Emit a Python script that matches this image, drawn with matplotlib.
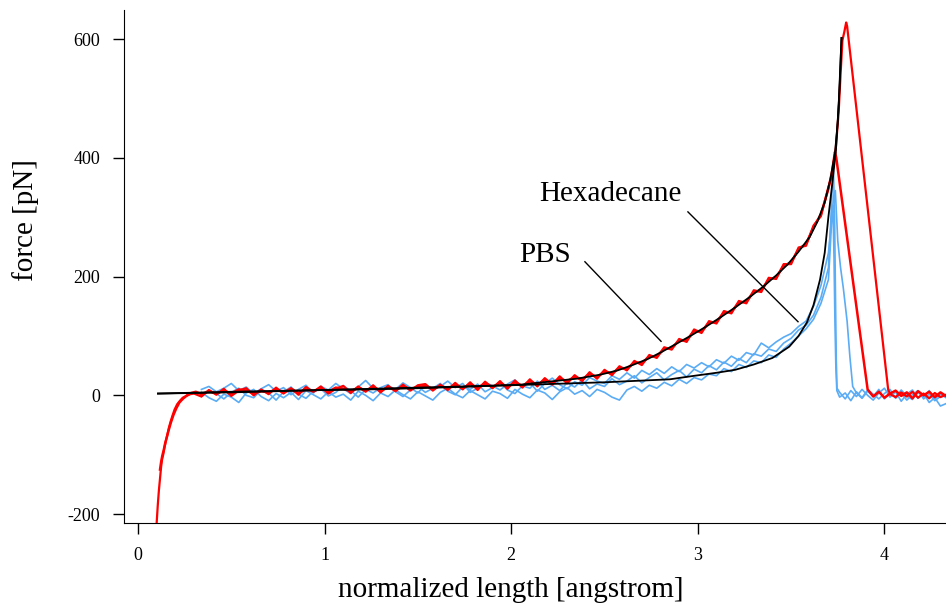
import numpy as np
import matplotlib
matplotlib.use("Agg")
import matplotlib.pyplot as plt

plt.rcParams['font.family'] = ['Liberation Serif', 'DejaVu Serif']
plt.rcParams['axes.unicode_minus'] = False

# shared sampling positions of the traces (normalized length)
grid_x = [0.34, 0.38, 0.42, 0.46, 0.50, 0.54, 0.58, 0.62, 0.66, 0.70,
          0.74, 0.78, 0.82, 0.86, 0.90, 0.94, 0.98, 1.02, 1.06, 1.10,
          1.14, 1.18, 1.22, 1.26, 1.30, 1.34, 1.38, 1.42, 1.46, 1.50,
          1.54, 1.58, 1.62, 1.66, 1.70, 1.74, 1.78, 1.82, 1.86, 1.90,
          1.94, 1.98, 2.02, 2.06, 2.10, 2.14, 2.18, 2.22, 2.26, 2.30,
          2.34, 2.38, 2.42, 2.46, 2.50, 2.54, 2.58, 2.62, 2.66, 2.70,
          2.74, 2.78, 2.82, 2.86, 2.90, 2.94, 2.98, 3.02, 3.06, 3.10,
          3.14, 3.18, 3.22, 3.26, 3.30, 3.34, 3.38, 3.42, 3.46, 3.50,
          3.54, 3.58, 3.62, 3.66, 3.70]

# Hexadecane traces (red), force in pN
hex1_start_x = [0.100, 0.106, 0.112, 0.118, 0.124, 0.129, 0.135, 0.142, 0.150, 0.158,
                0.166, 0.175, 0.185, 0.196, 0.210, 0.225, 0.240, 0.260, 0.280, 0.300]
hex1_start_y = [-215, -185, -160, -140, -120, -108, -100, -88, -76, -65,
                -54, -44, -34, -24, -15, -9, -4, -1, 2, 3]
hex1_y = [-2, 9, 1, 11, -1, 8, 12, 0, 10, 2,
          13, 3, 12, 1, 14, 6, 15, 3, 11, 16,
          4, 15, 6, 17, 5, 16, 7, 18, 8, 17,
          19, 8, 18, 9, 21, 10, 22, 9, 23, 12,
          24, 11, 25, 13, 27, 15, 29, 18, 32, 20,
          34, 24, 39, 28, 43, 34, 49, 42, 58, 51,
          68, 63, 81, 77, 95, 90, 111, 105, 125, 121,
          142, 138, 159, 155, 177, 174, 198, 196, 221, 221,
          249, 252, 286, 302, 351]
hex1_end_x = [3.72, 3.74, 3.755, 3.765, 3.775, 3.785, 3.795, 3.80, 4.02, 4.03,
              4.06, 4.09, 4.12, 4.15, 4.18, 4.21, 4.24, 4.27, 4.30, 4.33]
hex1_end_y = [372, 418, 478, 540, 598, 612, 628, 622, 10, 2,
              -3, 5, -2, 6, -4, 3, -5, 4, -3, 1]

hex2_start_x = [0.118, 0.124, 0.130, 0.138, 0.146, 0.155, 0.165, 0.176, 0.190, 0.205,
                0.222, 0.240, 0.262, 0.285, 0.310]
hex2_start_y = [-125, -112, -102, -92, -80, -70, -58, -46, -33, -22,
                -12, -6, 0, 4, 6]
hex2_y = [2, 7, 3, 8, 3, 10, 8, 3, 7, 5,
          10, 5, 11, 4, 10, 7, 12, 6, 13, 11,
          7, 13, 8, 14, 8, 13, 9, 15, 11, 14,
          16, 11, 16, 12, 17, 12, 19, 13, 20, 14,
          21, 14, 22, 16, 24, 18, 26, 21, 28, 24,
          31, 27, 36, 31, 40, 37, 46, 45, 55, 55,
          65, 66, 78, 80, 92, 93, 108, 108, 122, 124,
          139, 141, 156, 158, 174, 177, 195, 199, 218, 224,
          246, 255, 283, 305, 348]
hex2_end_x = [3.72, 3.735, 3.742, 3.91, 3.94, 3.97, 4.00, 4.03, 4.06, 4.09,
              4.12, 4.15, 4.18, 4.21, 4.24, 4.27, 4.30, 4.33]
hex2_end_y = [378, 410, 400, 10, -2, 6, -4, 3, 8, -1,
              5, -5, 7, 0, 6, -3, 5, -1]

# PBS traces (blue)
pbs1_y = [-2, 8, 3, -6, 5, 12, 0, -4, 9, 4,
          -8, 6, 14, 2, -5, 7, 11, -1, 5, 16,
          8, -3, 10, 4, 13, 18, 6, -2, 9, 15,
          5, 12, 20, 7, 1, 14, 10, 19, 6, 13,
          22, 9, 3, 16, 12, 24, 10, 17, 8, 21,
          14, 26, 11, 19, 15, 28, 18, 24, 33, 21,
          30, 38, 26, 35, 42, 31, 44, 38, 50, 43,
          56, 49, 62, 55, 70, 66, 78, 74, 88, 96,
          110, 118, 135, 165, 215]
pbs1_end_x = [3.712, 3.72, 3.727, 3.733, 3.738, 3.742, 3.746, 3.76, 3.79, 3.82,
              3.85, 3.88, 3.91, 3.94, 3.97, 4.00, 4.03, 4.06, 4.09, 4.12,
              4.15, 4.18, 4.21, 4.24, 4.27, 4.30, 4.33]
pbs1_end_y = [290, 350, 378, 300, 160, 60, 12, 5, -6, 8,
              -2, 10, 0, -8, 4, 12, -3, 6, -10, 2,
              9, -5, 3, -12, -4, -18, -14]

pbs2_y = [5, -4, -10, 2, -3, -12, 4, 10, -2, -9,
          3, -4, 5, -7, 8, 1, -6, 6, -3, 2,
          -8, 7, 0, -9, 4, -2, 9, 1, -6, 6,
          -1, -8, 5, 12, 2, -4, 8, 1, -6, 7,
          3, -5, 10, 2, -4, 9, 4, -7, 6, 13,
          2, 8, -2, 10, 5, -3, -8, 9, 15, 7,
          17, 12, 22, 16, 27, 20, 30, 26, 36, 33,
          45, 40, 52, 47, 58, 55, 68, 64, 78, 88,
          100, 112, 128, 155, 195]
pbs2_end_x = [3.71, 3.718, 3.724, 3.73, 3.735, 3.74, 3.745, 3.76, 3.79, 3.82,
              3.85, 3.88, 3.91, 3.94, 3.97, 4.00, 4.03, 4.06, 4.09, 4.12,
              4.15, 4.18, 4.21, 4.24, 4.27, 4.30]
pbs2_end_y = [250, 300, 320, 230, 120, 45, 8, -3, 4, -9,
              6, -4, 9, 2, -6, 3, 10, -5, 4, -8,
              1, 8, -6, 2, -9, -2]

pbs3_y = [10, 15, 6, 12, 20, 8, 14, 3, 11, 18,
          7, 13, 1, 10, 17, 4, 15, 9, 20, 11,
          3, 14, 25, 12, 6, 16, 10, 21, 13, 4,
          18, 9, 15, 24, 13, 20, 5, 12, 22, 16,
          9, 19, 26, 14, 21, 7, 20, 29, 18, 11,
          23, 17, 30, 24, 20, 33, 27, 38, 29, 42,
          35, 45, 37, 48, 40, 52, 46, 55, 48, 60,
          54, 66, 59, 72, 68, 88, 80, 90, 98, 104,
          116, 125, 150, 185, 240]
pbs3_end_x = [3.715, 3.728, 3.737, 3.75, 3.765, 3.78, 3.80, 3.815, 3.83, 3.85,
              3.88, 3.91, 3.94, 3.97, 4.00, 4.03, 4.06, 4.09, 4.12, 4.15,
              4.18, 4.21, 4.24, 4.27, 4.30, 4.33]
pbs3_end_y = [290, 335, 345, 260, 215, 180, 125, 65, 15, 4,
              -5, 7, -2, 10, -6, 4, -3, 9, -1, -7,
              5, -3, 8, -6, 2, -4]

# fitted curves (black)
fit_hex_x = [0.107, 0.5, 1.0, 1.24, 1.5, 1.8, 2.05, 2.2, 2.35, 2.48, 2.57, 2.65, 2.73,
             2.80, 2.88, 2.96, 3.04, 3.12, 3.20, 3.28, 3.35, 3.42, 3.48, 3.54, 3.60,
             3.64, 3.68, 3.71, 3.735, 3.75, 3.76, 3.77]
fit_hex_y = [3, 5, 9, 10, 12, 15, 18, 23, 28, 35, 42, 51, 61,
             72, 86, 100, 115, 131, 148, 166, 183, 202, 220, 242, 267,
             292, 325, 363, 408, 460, 520, 602]
fit_pbs_x = [0.107, 0.5, 1.0, 1.5, 2.0, 2.5, 2.85, 2.96, 3.1, 3.2, 3.3, 3.4, 3.49,
             3.54, 3.585, 3.62, 3.655, 3.68, 3.70, 3.72, 3.74, 3.755, 3.77]
fit_pbs_y = [3, 6, 9, 13, 17, 22, 27, 32, 38, 43, 52, 63, 82,
             100, 123, 152, 195, 240, 301, 355, 413, 490, 602]

red = '#ff0000'
blue = '#5aacf5'

fig = plt.figure(figsize=(9.46, 6.05), dpi=100)
ax = fig.add_axes([124 / 946, 1 - 523 / 605, 822 / 946, 513 / 605])

for y_main, ex, ey in [(pbs1_y, pbs1_end_x, pbs1_end_y),
                       (pbs2_y, pbs2_end_x, pbs2_end_y),
                       (pbs3_y, pbs3_end_x, pbs3_end_y)]:
    ax.plot(grid_x + ex, y_main + ey, color=blue, lw=1.2, zorder=2)

ax.plot(hex1_start_x + grid_x + hex1_end_x, hex1_start_y + hex1_y + hex1_end_y,
        color=red, lw=1.6, zorder=3)
ax.plot(hex2_start_x + grid_x + hex2_end_x, hex2_start_y + hex2_y + hex2_end_y,
        color=red, lw=1.8, zorder=3)

ax.plot(fit_pbs_x, fit_pbs_y, color='black', lw=1.3, zorder=4)
ax.plot(fit_hex_x, fit_hex_y, color='black', lw=1.3, zorder=4)

# labels with leader lines
ax.text(2.53, 328, 'Hexadecane', fontsize=21, ha='center', va='baseline')
ax.plot([2.947, 3.537], [309, 124], color='black', lw=1.0, zorder=5)
ax.text(2.18, 225, 'PBS', fontsize=21, ha='center', va='baseline')
ax.plot([2.395, 2.803], [225, 91], color='black', lw=1.0, zorder=5)

ax.set_xlim(-0.075, 4.33)
ax.set_ylim(-215, 649)
ax.set_xticks([0, 1, 2, 3, 4])
ax.set_yticks([-200, 0, 200, 400, 600])
ax.spines['top'].set_visible(False)
ax.spines['right'].set_visible(False)
ax.tick_params(direction='out', length=8, width=1, labelsize=13, pad=9)

fig.text(511 / 946, 1 - 590 / 605, 'normalized length [angstrom]', fontsize=21,
         ha='center', va='center')
fig.text(26 / 946, 1 - 220 / 605, 'force [pN]', fontsize=21, rotation=90,
         ha='center', va='center')

fig.savefig('out.png', dpi=100)
